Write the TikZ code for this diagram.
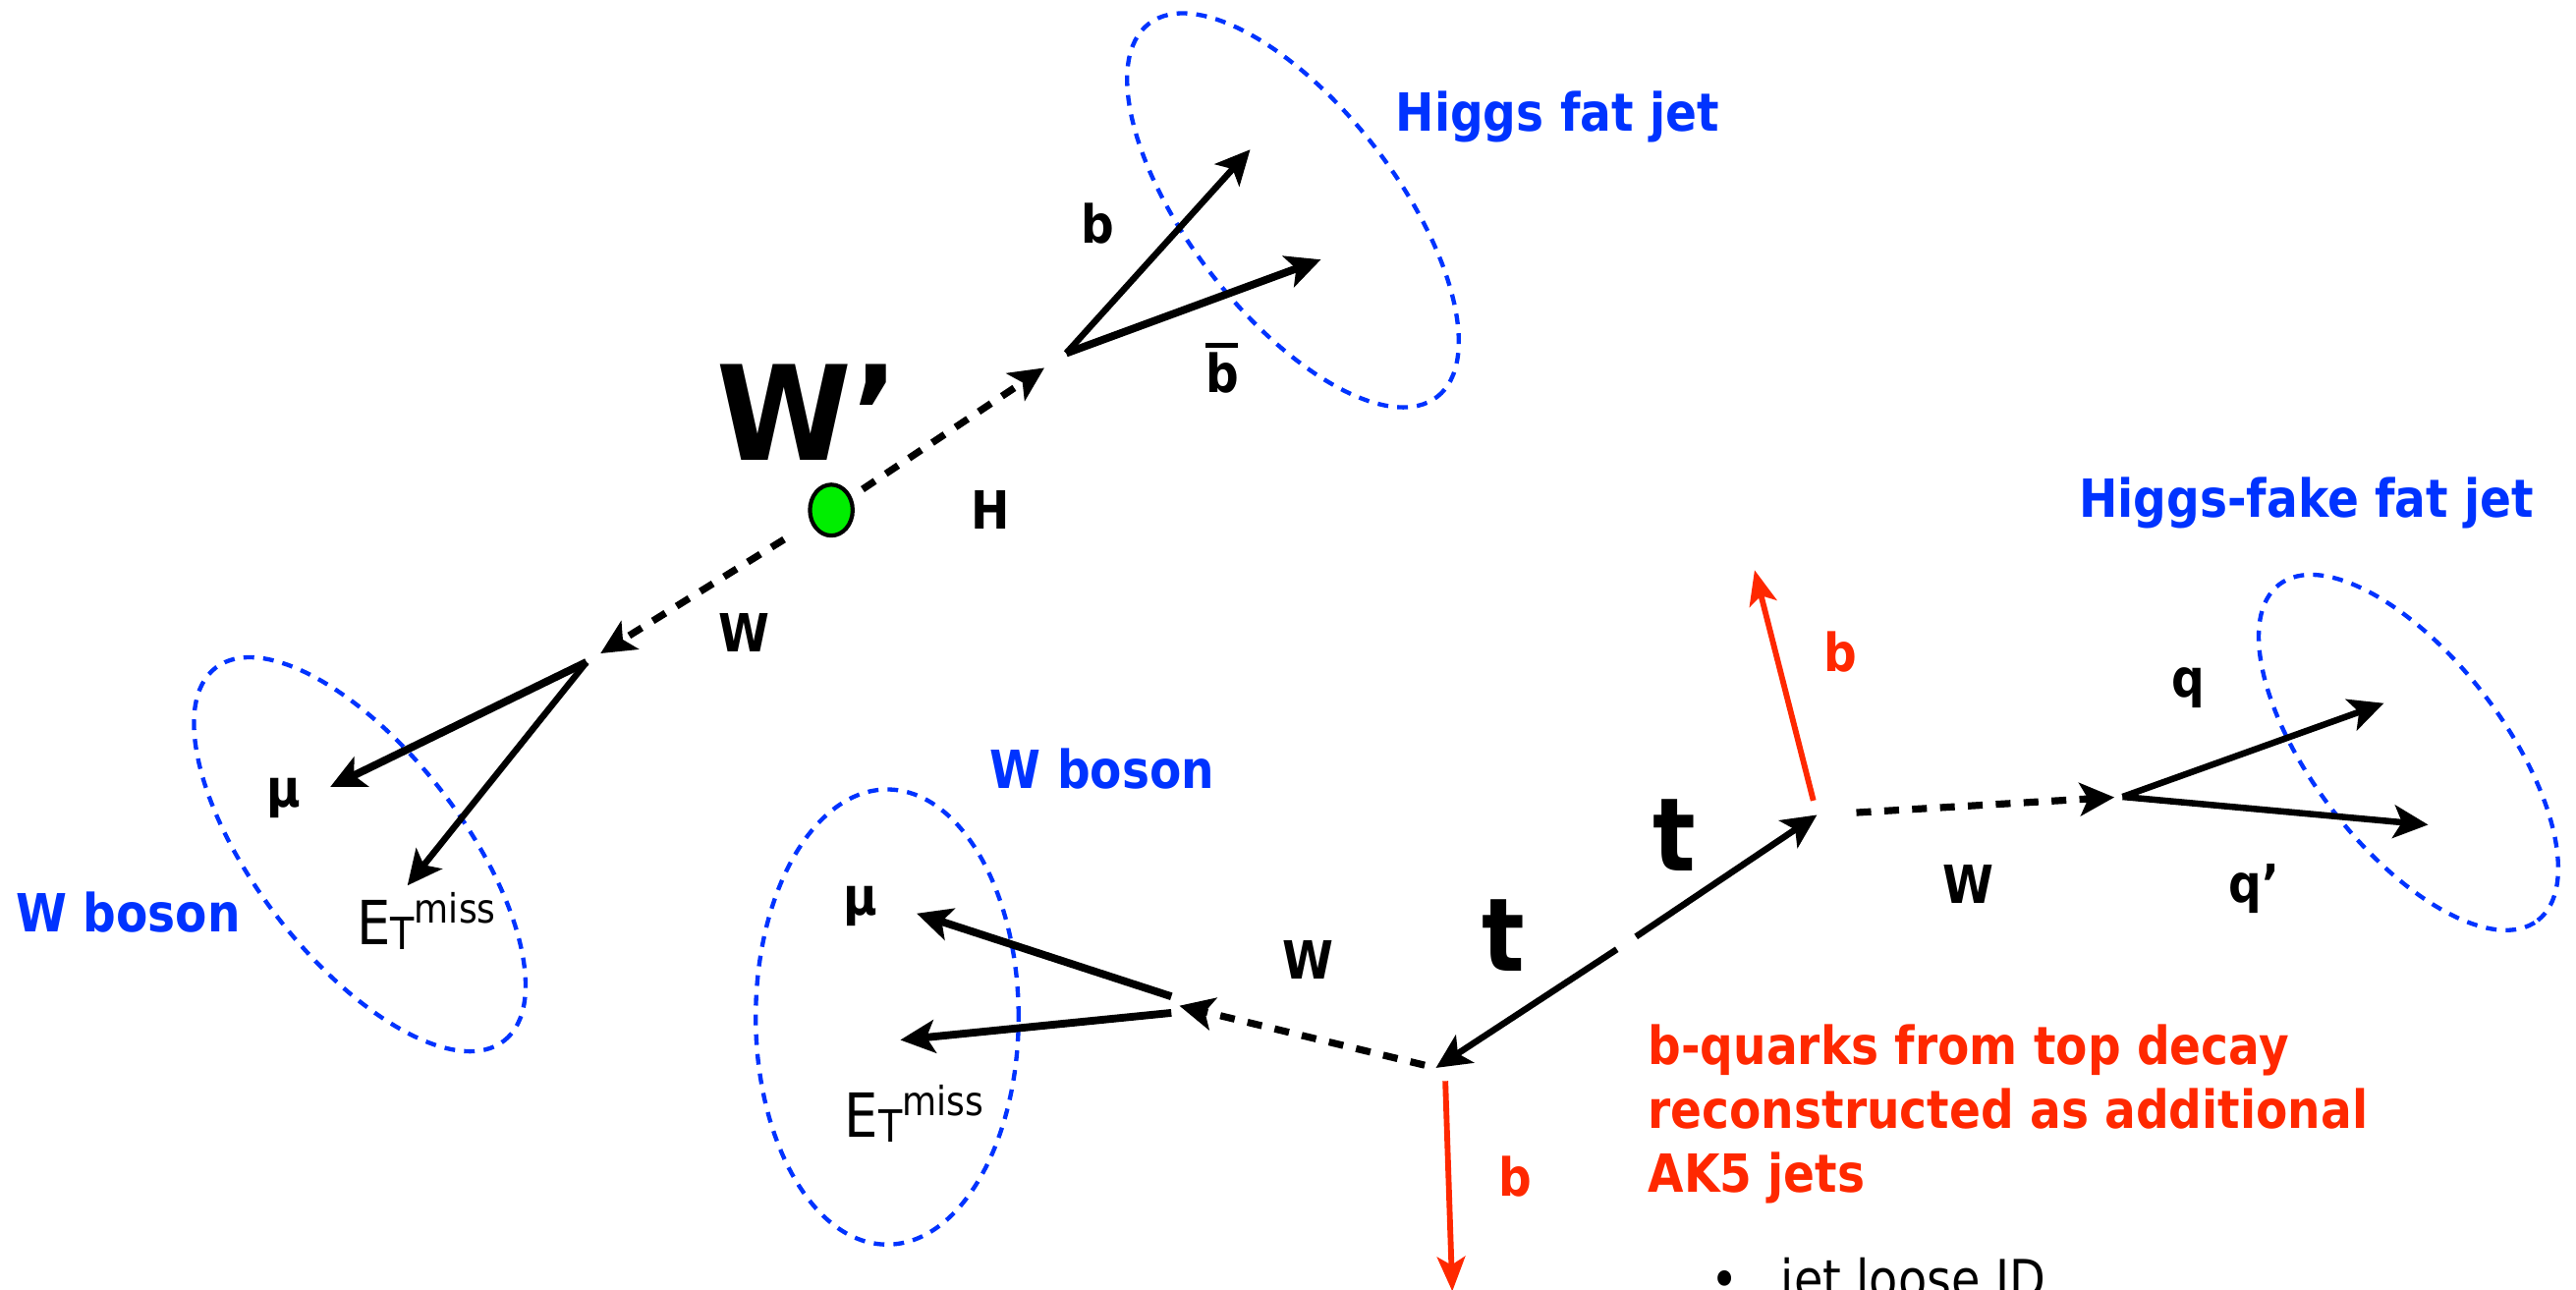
\documentclass[tikz,border=0pt]{standalone}
\usepackage{fontspec}
\setmainfont{DejaVu Sans}[FakeStretch=0.88]
\usetikzlibrary{arrows.meta,shapes.geometric}
\definecolor{jetblue}{RGB}{0,51,255}
\definecolor{bred}{RGB}{255,40,0}
\definecolor{dotgreen}{RGB}{0,238,0}
\newcommand{\etmiss}{E{\fontsize{27}{27}\selectfont\raisebox{-3pt}{T}}{\fontsize{24.5}{24.5}\selectfont\raisebox{13pt}{miss}}}
\begin{document}
\begin{tikzpicture}[x=1pt,y=1pt,
  tip/.style={-{Stealth[length=21pt,width=20pt,inset=5pt]}},
  particle/.style={tip,line width=3.9pt},
  thickparticle/.style={tip,line width=4.7pt},
  boson/.style={tip,line width=4.3pt,dash pattern=on 9pt off 8pt},
  redq/.style={-{Stealth[length=21pt,width=17pt,inset=5pt]},line width=3.5pt,draw=bred,fill=bred},
  jet/.style={draw=jetblue,line width=2.6pt,dash pattern=on 6.5pt off 5.5pt,ellipse,inner sep=0pt},
  lbl/.style={inner sep=0pt,anchor=base,font=\fontsize{32}{32}\selectfont\bfseries},
  bluelbl/.style={lbl,text=jetblue},
  redlbl/.style={lbl,text=bred},
  bigt/.style={inner sep=0pt,anchor=base,font=\fontsize{62}{62}\selectfont\bfseries},
  thin/.style={inner sep=0pt,anchor=base west,font=\fontsize{37}{37}\selectfont},
  dot/.style={ellipse,draw=black,line width=2.5pt,fill=dotgreen,minimum width=26pt,minimum height=31pt,inner sep=0pt}]
\useasboundingbox (0,0) rectangle (1568,-784.6);

% ---- jets (blue dashed ellipses)
\node[jet,minimum width=287pt,minimum height=126pt,rotate=-52.3] (higgsjet) at (787,-128) {};
\node[jet,minimum width=287pt,minimum height=126pt,rotate=-52.3] (wjetL) at (219,-520) {};
\node[jet,minimum width=160pt,minimum height=277pt] (wjetM) at (540,-619) {};
\node[jet,minimum width=258pt,minimum height=116pt,rotate=-52.4] (fakejet) at (1466,-458) {};

% ---- W' and its decays
\node[dot] (Wp) at (506,-310.5) {};
\coordinate (Hv) at (649,-215);
\coordinate (bEnd) at (761,-91);
\coordinate (bbEnd) at (804,-158);
\coordinate (Wv1) at (357,-403);
\coordinate (muL) at (201,-479);
\coordinate (etL) at (248,-539);

\draw[boson,shorten <=8pt,shorten >=16pt] (Wp) -- (Hv);
\draw[particle] (Hv) -- (bEnd);
\draw[thickparticle] (Hv) -- (bbEnd);
\draw[boson,shorten <=19pt,shorten >=10pt] (Wp) -- (Wv1);
\draw[thickparticle] (Wv1) -- (muL);
\draw[particle] (Wv1) -- (etL);

% ---- top pair
\coordinate (tv) at (990,-574);
\coordinate (T1) at (874,-650);
\coordinate (T2) at (1106,-496);
\coordinate (bUp) at (1068,-347);
\coordinate (bDown) at (884,-786);
\coordinate (Wv2) at (713,-611);
\coordinate (muM) at (558,-556);
\coordinate (etM) at (548,-633);
\coordinate (Wv3) at (1292,-485);
\coordinate (qE) at (1451,-428);
\coordinate (qpE) at (1478,-502);

\draw[particle,shorten <=7pt] (tv) -- (T1);
\draw[particle,shorten <=7pt] (tv) -- (T2);
\draw[redq,shorten <=9pt] (T2) -- (bUp);
\draw[redq,shorten <=8pt] ([xshift=5.5pt]T1) -- (bDown);
\draw[boson,shorten <=7pt,shorten >=5pt] (T1) -- (Wv2);
\draw[thickparticle] ([yshift=4.5pt]Wv2) -- (muM);
\draw[thickparticle] ([yshift=-5.5pt]Wv2) -- (etM);
\draw[boson,shorten <=24pt,shorten >=5pt] (T2) -- (Wv3);
\draw[particle] (Wv3) -- (qE);
\draw[particle] (Wv3) -- (qpE);

% ---- labels
\node[inner sep=0pt,anchor=base west,font=\fontsize{80}{80}\selectfont\bfseries] (WpL) at (436,-280) {\scalebox{1.06}[1]{W’}};
\node[bluelbl] (higgsL) at (948,-80) {Higgs fat jet};
\node[bluelbl] (fakeL) at (1404,-315) {Higgs-fake fat jet};
\node[bluelbl] (wbL) at (78,-567) {W boson};
\node[bluelbl] (wbM) at (671,-480) {W boson};
\node[lbl] (bL) at (668,-148) {b};
\node[lbl] (bbL) at (744,-239) {\makebox[0pt][l]{\raisebox{0.86em}{\rule{0.62em}{0.09em}}}b};
\node[lbl] (HL) at (603,-322) {H};
\node[lbl] (WL1) at (453,-397) {W};
\node[lbl] (muL1) at (172.5,-491) {µ};
\node[thin] (etL1) at (217,-575) {\etmiss};
\node[lbl] (muL2) at (524,-557) {µ};
\node[thin] (etL2) at (514,-692) {\etmiss};
\node[lbl] (WL2) at (796,-596) {W};
\node[bigt] (tL1) at (915,-591) {t};
\node[bigt] (tL2) at (1019,-530) {t};
\node[redlbl] (bRu) at (1120,-409) {b};
\node[redlbl] (bRd) at (922.5,-728) {b};
\node[lbl] (WL3) at (1198,-550) {W};
\node[lbl] (qL) at (1332,-424) {q};
\node[lbl] (qpL) at (1372,-549) {q’};
\node[redlbl,anchor=base west] (txt1) at (1003,-648) {b-quarks from top decay};
\node[redlbl,anchor=base west] (txt2) at (1003,-687) {reconstructed as additional};
\node[redlbl,anchor=base west] (txt3) at (1003,-725.5) {AK5 jets};
\node[inner sep=0pt,anchor=base west,font=\fontsize{32.5}{32.5}\selectfont] (bul) at (1041,-790) {\makebox[43pt][l]{•}jet loose ID};
\end{tikzpicture}
\end{document}
